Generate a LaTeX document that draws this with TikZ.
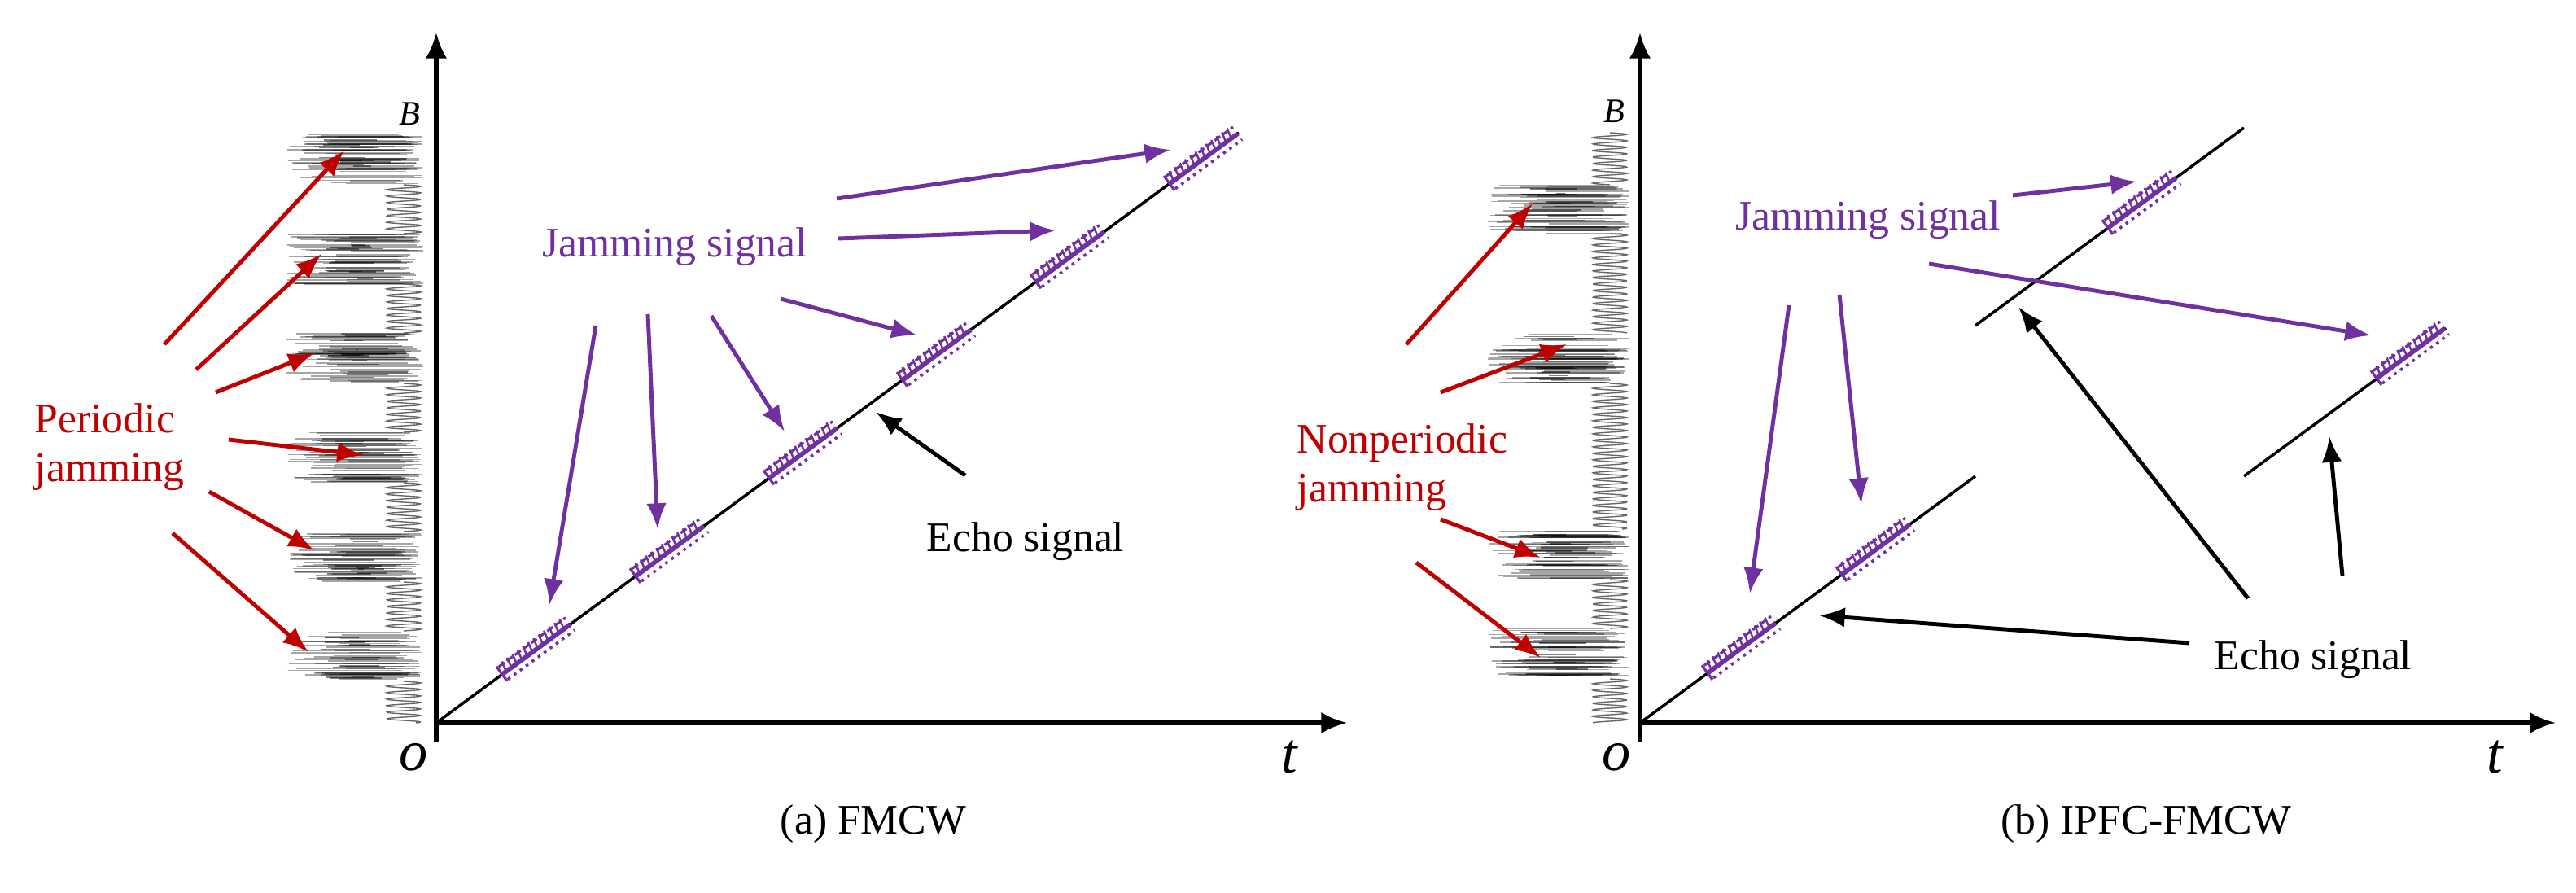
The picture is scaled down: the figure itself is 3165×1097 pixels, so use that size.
\documentclass[tikz,border=0pt]{standalone}
\usepackage{fontspec}
\setmainfont{Liberation Serif}
\usetikzlibrary{arrows.meta,positioning}
\definecolor{jamred}{HTML}{C00000}
\definecolor{jampurple}{HTML}{7030A0}
\tikzset{
  axis/.style    = {line width=1.5pt, -{Latex[length=9pt,width=7.5pt]}},
  sweep/.style   = {line width=1pt},
  pointer/.style = {line width=1.4pt, -{Latex[length=9pt,width=7pt]}},
  redptr/.style  = {pointer, jamred},
  purptr/.style  = {pointer, jampurple},
  echoptr/.style = {pointer, black},
  txt/.style     = {inner sep=0pt, font=\fontsize{14.7}{17}\selectfont},
  axlbl/.style   = {inner sep=0pt, font=\fontsize{20}{24}\selectfont\itshape},
  blbl/.style    = {inner sep=0pt, font=\fontsize{12}{14}\selectfont\itshape},
  streak/.style  = {black, opacity=0.35, line width=0.45pt},
  sine/.style    = {black!60, line width=0.4pt}
}

\newcommand{\jamseg}[1]{%
  \begin{scope}[shift={(#1)}, rotate=36.3, jampurple]
    \draw[line width=1.6pt] (-0.52cm,0) -- (0.52cm,0);
    \draw[line width=0.9pt, dash pattern=on 2.5pt off 1pt] (-0.5cm,0.1cm) -- (0.52cm,0.1cm);
    \draw[line width=1pt, dash pattern=on 1pt off 1.6pt] (-0.5cm,-0.09cm) -- (0.52cm,-0.09cm);
    \foreach \s in {-0.46,-0.38,...,0.46}
      \draw[line width=0.7pt] (\s cm,0) -- ({\s cm+0.03cm},0.13cm);
    \draw[line width=0.9pt] (-0.52cm,-0.1cm) -- (-0.52cm,0.12cm);
  \end{scope}}

\newcommand{\noiseband}[4]{%
  \foreach \k in {1,...,50}{
    \pgfmathsetmacro\yy{#3+(#4-#3)*rnd}
    \draw[streak] ({#1+80*rnd},\yy) -- ({#2-35*rnd},\yy);
  }
  \foreach \k in {1,...,12}{
    \pgfmathsetmacro\yy{#3+4+(#4-#3-8)*rnd}
    \draw[streak, opacity=0.5] ({#1+40+50*rnd},\yy) -- ({#2-40-40*rnd},\yy);
  }}

\newcommand{\sineband}[3]{%
  \pgfmathsetmacro\len{#3-#2}
  \pgfmathtruncatemacro\ns{\len*1.5+2}
  \draw[sine] plot[domain=0:\len, samples=\ns] ({#1+21*sin(45*\x)},{#2+\x});}

\begin{document}
\begin{tikzpicture}[x=0.01cm, y=-0.01cm]
\useasboundingbox (0,0) rectangle (3165,1097);
\pgfmathsetseed{11}

% (a) FMCW
\foreach \yt in {165,287,409,531,653,775}
  \noiseband{352}{520}{\yt}{\yt+62};
\foreach \yt/\yb in {227/287, 349/409, 471/531, 593/653, 715/775, 837/888}
  \sineband{496}{\yt}{\yb};

\coordinate (oa) at (536,888);
\coordinate (ya0) at (536,912);
\coordinate (ya) at (536,40);
\coordinate (xa) at (1655,888);
\coordinate (enda) at (1522,163);
\draw[axis] (ya0) -- (ya);
\draw[axis] (oa) -- (xa);
\draw[sweep] (oa) -- (enda);

\foreach \d [count=\i] in {123,287,451,615,779,943}
  \coordinate (ja\i) at ({536+\d},{888-0.735*\d});
\foreach \i in {1,...,6}
  \jamseg{ja\i};

\node[blbl] (Ba) at (503,140) {B};
\node[axlbl] (Oa) at (508,930) {o};
\node[axlbl] (Ta) at (1584,930) {t};
\node[txt, jampurple] (jama) at (829,303) {Jamming signal};
\node[txt] (echoa) at (1260,665) {Echo signal};
\node[txt, jamred, align=left, anchor=west] (pera) at (42,549) {Periodic\\jamming};
\node[txt] (capa) at (1073,1012) {(a) FMCW};

\foreach \sx/\sy/\ex/\ey [count=\i] in {202/423/423/185, 241/454/395/312,
    265/482/386/434, 281/540/446/559, 257/604/386/676, 212/655/379/801}{
  \coordinate (ras\i) at (\sx,\sy);
  \coordinate (rae\i) at (\ex,\ey);
  \draw[redptr] (ras\i) -- (rae\i);
  }

\foreach \sx/\sy/\ex/\ey [count=\i] in {1028/244/1438/184, 1030/293/1297/283,
    959/367/1127/412, 874/388/964/530, 796/386/808/650, 732/400/675/743}{
  \coordinate (pas\i) at (\sx,\sy);
  \coordinate (pae\i) at (\ex,\ey);
  \draw[purptr] (pas\i) -- (pae\i);
  }

\coordinate (eas) at (1186,584);
\coordinate (eae) at (1076,506);
\draw[echoptr] (eas) -- (eae);

% (b) IPFC-FMCW
\foreach \yt/\yb in {227/287, 409/471, 650/712, 772/834}
  \noiseband{1828}{2002}{\yt}{\yb};
\foreach \yt/\yb in {163/227, 287/409, 471/650, 712/772, 834/888}
  \sineband{1978}{\yt}{\yb};

\coordinate (ob) at (2015,888);
\coordinate (yb0) at (2015,912);
\coordinate (yb) at (2015,40);
\coordinate (xb) at (3140,888);
\draw[axis] (yb0) -- (yb);
\draw[axis] (ob) -- (xb);

\coordinate (b1) at (2427,585);
\coordinate (b2) at (2427,400);
\coordinate (b3) at (2757,157);
\coordinate (b4) at (2757,585);
\coordinate (b5) at (3005,403);
\draw[sweep] (ob) -- (b1);
\draw[sweep] (b2) -- (b3);
\draw[sweep] (b4) -- (b5);

\foreach \x/\y [count=\i] in {2140/796, 2305/675, 2632/249, 2962/434}
  \coordinate (jb\i) at (\x,\y);
\foreach \i in {1,...,4}
  \jamseg{jb\i};

\node[blbl] (Bb) at (1983,137) {B};
\node[axlbl] (Ob) at (1986,930) {o};
\node[axlbl] (Tb) at (3065,930) {t};
\node[txt, jampurple] (jamb) at (2295,270) {Jamming signal};
\node[txt] (echob) at (2842,810) {Echo signal};
\node[txt, jamred, align=left, anchor=west] (perb) at (1593,574) {Nonperiodic\\jamming};
\node[txt] (capb) at (2637,1012) {(b) IPFC-FMCW};

\foreach \sx/\sy/\ex/\ey [count=\i] in {1728/423/1883/250, 1770/482/1925/423,
    1770/638/1893/685, 1740/691/1893/808}{
  \coordinate (rbs\i) at (\sx,\sy);
  \coordinate (rbe\i) at (\ex,\ey);
  \draw[redptr] (rbs\i) -- (rbe\i);
  }

\foreach \sx/\sy/\ex/\ey [count=\i] in {2473/240/2625/223, 2370/324/2913/412,
    2198/375/2150/729, 2260/362/2287/619}{
  \coordinate (pbs\i) at (\sx,\sy);
  \coordinate (pbe\i) at (\ex,\ey);
  \draw[purptr] (pbs\i) -- (pbe\i);
  }

\foreach \sx/\sy/\ex/\ey [count=\i] in {2690/790/2235/756, 2762/735/2480/377,
    2878/707/2862/536}{
  \coordinate (ebs\i) at (\sx,\sy);
  \coordinate (ebe\i) at (\ex,\ey);
  \draw[echoptr] (ebs\i) -- (ebe\i);
  }

\end{tikzpicture}
\end{document}
